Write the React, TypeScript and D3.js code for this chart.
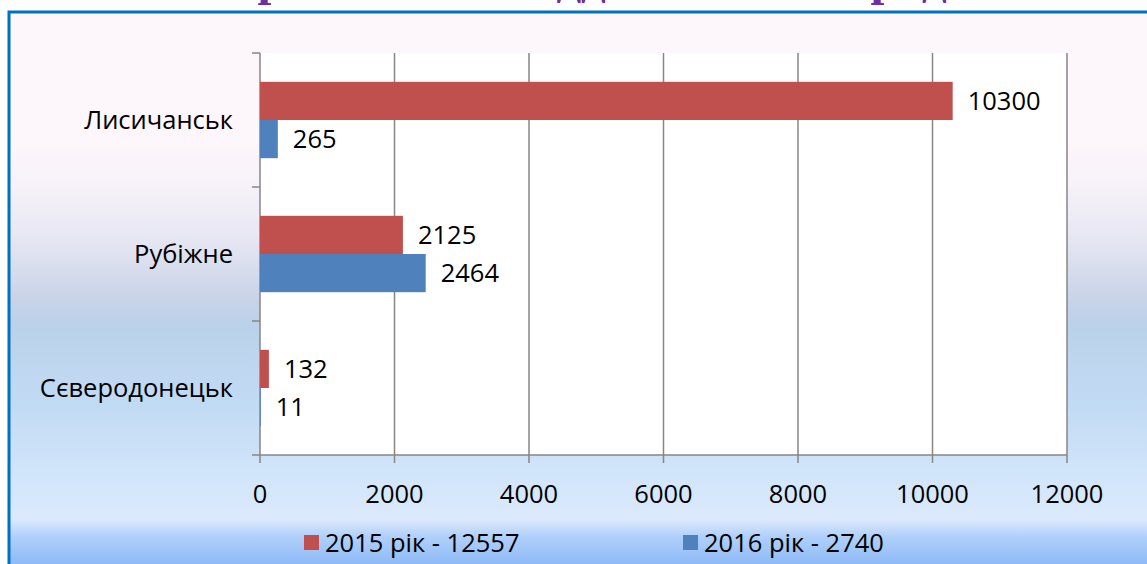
import { useEffect, useRef } from "react";
import * as d3 from "d3";

// chart data
const cities = ["Лисичанськ", "Рубіжне", "Сєверодонецьк"];
const values2015 = [10300, 2125, 132];
const values2016 = [265, 2464, 11];
const seriesNames = ["2015 рік - 12557", "2016 рік - 2740"];
const xTicks = [0, 2000, 4000, 6000, 8000, 10000, 12000];
const titleText = "Кримінальні відділи міських рад";

const W = 1147;
const H = 564;
const colors = ["#c0504d", "#4f81bd"];
const font = "'Open Sans', 'Noto Sans', sans-serif";
const fs = 25.5;

const App = () => {
  const svgRef = useRef<SVGSVGElement>(null);

  useEffect(() => {
    const svg = d3.select(svgRef.current);
    svg.selectAll("*").remove();

    const defs = svg.append("defs");
    defs
      .append("linearGradient")
      .attr("id", "bg-grad")
      .attr("x1", "0").attr("y1", "0")
      .attr("x2", "0").attr("y2", "1")
      .selectAll("stop")
      .data([
        { o: 0, c: "#fdf6fb" },
        { o: 0.226, c: "#fdf6fb" },
        { o: 0.306, c: "#f7f2f9" },
        { o: 0.405, c: "#e6e6f2" },
        { o: 0.505, c: "#c9d4e7" },
        { o: 0.553, c: "#bbd1ea" },
        { o: 0.7, c: "#c2dbf4" },
        { o: 0.85, c: "#d5e7fb" },
        { o: 0.9, c: "#dce9fb" },
        { o: 0.93, c: "#b0d0fb" },
        { o: 1, c: "#80b0f5" },
      ])
      .enter()
      .append("stop")
      .attr("offset", (d) => d.o)
      .attr("stop-color", (d) => d.c);

    svg.append("rect").attr("width", W).attr("height", H).attr("fill", "#fff");

    // title, mostly above the visible area
    svg
      .append("text")
      .attr("x", 222)
      .attr("y", -6)
      .attr("font-family", "'Liberation Serif', 'DejaVu Serif', serif")
      .attr("font-weight", "bold")
      .attr("font-size", 50)
      .attr("fill", "#7030a0")
      .attr("textLength", 725)
      .text(titleText);

    // slide frame
    svg
      .append("rect")
      .attr("x", 9)
      .attr("y", 12)
      .attr("width", W)
      .attr("height", H)
      .attr("fill", "url(#bg-grad)")
      .attr("stroke", "#0070c0")
      .attr("stroke-width", 3);

    const margin = { left: 260, right: 1067, top: 53, bottom: 455 };

    const x = d3.scaleLinear().domain([0, 12000]).range([margin.left, margin.right]);
    const y = d3.scaleBand().domain(cities).range([margin.top, margin.bottom]);
    const barH = y.bandwidth() * 0.285;

    // plot area
    svg
      .append("rect")
      .attr("x", margin.left)
      .attr("y", margin.top)
      .attr("width", margin.right - margin.left)
      .attr("height", margin.bottom - margin.top)
      .attr("fill", "#fff");

    // vertical grid lines
    svg
      .append("g")
      .selectAll("line")
      .data(xTicks)
      .enter()
      .append("line")
      .attr("x1", (d) => x(d))
      .attr("x2", (d) => x(d))
      .attr("y1", margin.top)
      .attr("y2", margin.bottom + 8)
      .attr("stroke", "#868686")
      .attr("stroke-width", 1.5);

    // bottom axis line
    svg
      .append("line")
      .attr("x1", margin.left)
      .attr("x2", margin.right)
      .attr("y1", margin.bottom)
      .attr("y2", margin.bottom)
      .attr("stroke", "#868686")
      .attr("stroke-width", 1.5);

    // left axis ticks at category boundaries
    const bounds = cities.map((c) => y(c)!).concat([margin.bottom]);
    svg
      .append("g")
      .selectAll("line")
      .data(bounds)
      .enter()
      .append("line")
      .attr("x1", margin.left - 8)
      .attr("x2", margin.left)
      .attr("y1", (d) => d)
      .attr("y2", (d) => d)
      .attr("stroke", "#868686")
      .attr("stroke-width", 1.5);

    // x tick labels
    svg
      .append("g")
      .selectAll("text")
      .data(xTicks)
      .enter()
      .append("text")
      .attr("x", (d) => x(d))
      .attr("y", 503)
      .attr("text-anchor", "middle")
      .attr("font-family", font)
      .attr("font-size", fs)
      .attr("fill", "#000")
      .text((d) => d);

    // category labels
    svg
      .append("g")
      .selectAll("text")
      .data(cities)
      .enter()
      .append("text")
      .attr("x", 233)
      .attr("y", (d) => y(d)! + y.bandwidth() / 2 + 9)
      .attr("text-anchor", "end")
      .attr("font-family", font)
      .attr("font-size", fs)
      .attr("fill", "#000")
      .text((d) => d);

    // bars + value labels
    [values2015, values2016].forEach((vals, si) => {
      const g = svg.append("g");
      const rows = cities.map((c, i) => ({ c, v: vals[i] }));
      const yPos = (c: string) =>
        y(c)! + y.bandwidth() / 2 + (si === 0 ? -barH : 0);
      g.selectAll("rect")
        .data(rows)
        .enter()
        .append("rect")
        .attr("x", x(0))
        .attr("y", (d) => yPos(d.c))
        .attr("width", (d) => x(d.v) - x(0))
        .attr("height", barH)
        .attr("fill", colors[si]);
      g.selectAll("text")
        .data(rows)
        .enter()
        .append("text")
        .attr("x", (d) => x(d.v) + 15)
        .attr("y", (d) => yPos(d.c) + barH / 2 + 9)
        .attr("font-family", font)
        .attr("font-size", fs)
        .attr("fill", "#000")
        .text((d) => d.v);
    });

    // legend
    const legend = [
      { x: 304, name: seriesNames[0], c: colors[0] },
      { x: 683, name: seriesNames[1], c: colors[1] },
    ];
    const lg = svg.append("g").selectAll("g").data(legend).enter().append("g");
    lg.append("rect")
      .attr("x", (d) => d.x)
      .attr("y", 535)
      .attr("width", 15)
      .attr("height", 15)
      .attr("fill", (d) => d.c);
    lg.append("text")
      .attr("x", (d) => d.x + 21)
      .attr("y", 552)
      .attr("font-family", font)
      .attr("font-size", fs)
      .attr("fill", "#000")
      .text((d) => d.name);
  }, []);

  return (
    <div style={{ position: "absolute", left: 0, top: 0 }}>
      <svg ref={svgRef} width={W} height={H} style={{ display: "block" }}></svg>
    </div>
  );
};

export default App;
